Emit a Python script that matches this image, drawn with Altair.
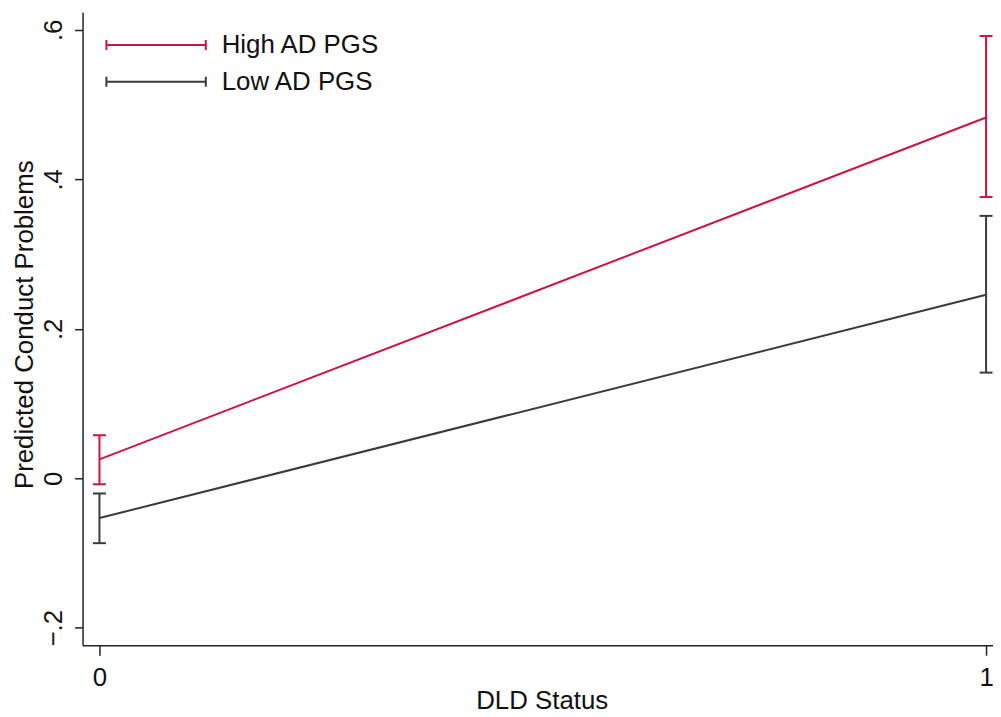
import altair as alt
import pandas as pd

groups = ["High AD PGS", "High AD PGS", "Low AD PGS", "Low AD PGS"]
dld = [0, 1, 0, 1]
pred = [0.0253, 0.4827, -0.0532, 0.2456]
ci_lo = [-0.008, 0.3763, -0.0868, 0.1414]
ci_hi = [0.0576, 0.5918, -0.0203, 0.3511]

series = ["High AD PGS", "Low AD PGS"]
colors = ["#CC1442", "#3A3A3A"]
y_ticks = [-0.2, 0, 0.2, 0.4, 0.6]
x_ticks = [0, 1]

df = pd.DataFrame({"group": groups, "dld": dld, "pred": pred, "lo": ci_lo, "hi": ci_hi})

FONT = "Liberation Sans"
FS = 26

x_enc = alt.X(
    "dld:Q",
    scale=alt.Scale(domain=[-0.01906, 1.0078], nice=False, zero=False),
    axis=alt.Axis(
        title="DLD Status", values=x_ticks, format="d", grid=False,
        tickSize=10, labelPadding=9, titleBaseline="alphabetic", titleY=64, titleX=462,
        labelFontSize=FS, titleFontSize=FS, titleFontWeight="normal",
    ),
)
y_axis = alt.Axis(
    title="Predicted Conduct Problems", values=y_ticks, grid=False,
    labelExpr="datum.value == 0 ? '0' : replace(format(datum.value, '.1f'), '0.', '.')",
    labelAngle=270, labelAlign="center", labelBaseline="alphabetic", labelPadding=13,
    tickSize=8, titleAngle=270, titleBaseline="alphabetic", titleX=-50, titleY=314,
    labelFontSize=FS, titleFontSize=FS, titleFontWeight="normal",
)
y_scale = alt.Scale(domain=[-0.2234, 0.6237], nice=False, zero=False)

legend = alt.Legend(
    title=None, orient="none", legendX=61, legendY=20,
    symbolType="M-5,0L5,0M-5,-0.5L-5,0.5M5,-0.5L5,0.5",
    symbolSize=400, symbolStrokeWidth=2, symbolOpacity=1, labelOffset=53,
    labelFontSize=FS, labelFont=FONT, labelColor="#111", labelLimit=400,
    rowPadding=11, padding=0,
)
color_enc = alt.Color("group:N", scale=alt.Scale(domain=series, range=colors), legend=legend)

base = alt.Chart(df)
lines = base.mark_line(strokeWidth=2, opacity=1).encode(
    x=x_enc, y=alt.Y("pred:Q", scale=y_scale, axis=y_axis), color=color_enc
)
bars = base.mark_rule(strokeWidth=2, opacity=1).encode(
    x=x_enc, y=alt.Y("lo:Q", scale=y_scale, axis=y_axis), y2="hi:Q", color=color_enc
)
cap_lo = base.mark_tick(orient="horizontal", size=13, thickness=2, opacity=1).encode(
    x=x_enc, y=alt.Y("lo:Q", scale=y_scale, axis=y_axis), color=color_enc
)
cap_hi = base.mark_tick(orient="horizontal", size=13, thickness=2, opacity=1).encode(
    x=x_enc, y=alt.Y("hi:Q", scale=y_scale, axis=y_axis), color=color_enc
)

chart = (
    alt.layer(lines, bars, cap_lo, cap_hi)
    .properties(
        width=916, height=637,
        autosize=alt.AutoSizeParams(type="none"),
        padding={"left": 75, "top": 2, "right": 0, "bottom": 68},
        background="white",
    )
    .configure_view(stroke=None)
    .configure_axis(
        domainColor="#222", tickColor="#222", labelColor="#111", titleColor="#111",
        labelFont=FONT, titleFont=FONT, domainWidth=1.5, tickWidth=1.5,
    )
)

chart.save("out.html", embed_options={"renderer": "svg", "actions": False})
